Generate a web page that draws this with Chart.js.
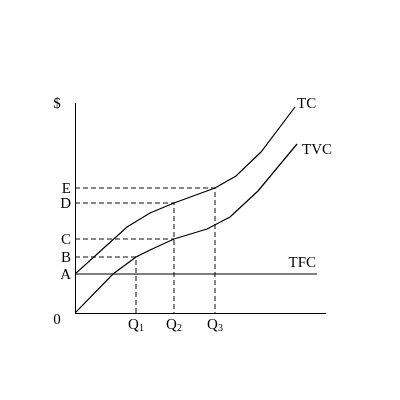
<!DOCTYPE html>
<html><head><meta charset="utf-8">
<script src="https://cdn.jsdelivr.net/npm/chart.js@4"></script>
<style>html,body{margin:0;padding:0;background:#fff}</style>
</head><body>
<canvas id="c" width="400" height="400"></canvas>
<script>
// Data (x = quantity, y = $)
const tvcX = [0, 38, 61, 75, 99, 132, 155, 183, 222];
const tvcY = [0, 39, 56, 63, 74, 84, 96, 122, 169];
const tcX = [0, 52, 75, 99, 140, 161, 186, 220];
const tcY = [39, 86, 100, 110, 125, 137, 161, 206];
const tfcX = [0, 242];
const tfcY = [39, 39];
const qValues = [61, 99, 140];
const qSubs = ['1', '2', '3'];
const costValues = [39, 56, 74, 110, 125];
const costLabels = ['A', 'B', 'C', 'D', 'E'];
const curveLabels = ['TC', 'TVC', 'TFC'];

const pts = (xs, ys) => xs.map((x, i) => ({x, y: ys[i]}));
const [A, B, C, D, E] = costValues;
const [Q1, Q2, Q3] = qValues;

const solid = (data) => ({data, showLine: true, borderColor: '#000', borderWidth: 1.2, pointRadius: 0, tension: 0, fill: false});
const dashed = (data) => ({data, showLine: true, borderColor: '#111', borderWidth: 1, borderDash: [5, 3], pointRadius: 0, tension: 0, fill: false});

const datasets = [
  solid(pts(tcX, tcY)),
  solid(pts(tvcX, tvcY)),
  solid(pts(tfcX, tfcY)),
  dashed([{x: 0, y: E}, {x: Q3, y: E}, {x: Q3, y: 0}]),
  dashed([{x: 0, y: D}, {x: Q2, y: D}, {x: Q2, y: 0}]),
  dashed([{x: 0, y: C}, {x: Q2, y: C}]),
  dashed([{x: 0, y: B}, {x: Q1, y: B}, {x: Q1, y: 0}])
];

const FONT = '"Liberation Serif", "DejaVu Serif", serif';

const labelPlugin = {
  id: 'labels',
  afterDraw(chart) {
    const ctx = chart.ctx, xs = chart.scales.x, ys = chart.scales.y;
    const x0 = xs.getPixelForValue(0), y0 = ys.getPixelForValue(0);
    ctx.save();
    ctx.fillStyle = '#000';
    ctx.font = '15px ' + FONT;
    ctx.textBaseline = 'middle';
    ctx.textAlign = 'right';
    costLabels.forEach((l, i) => {
      ctx.fillText(l, x0 - 4, ys.getPixelForValue(costValues[i]) + 1);
    });
    ctx.textAlign = 'center';
    ctx.fillText('$', x0 - 18, ys.top + 1);
    ctx.fillText('0', x0 - 18, y0 + 7);
    // Q labels with subscripts
    ctx.textBaseline = 'alphabetic';
    qValues.forEach((q, i) => {
      ctx.font = '15px ' + FONT;
      const wQ = ctx.measureText('Q').width;
      ctx.font = '10px ' + FONT;
      const wS = ctx.measureText(qSubs[i]).width;
      const cx = xs.getPixelForValue(q);
      const left = cx - (wQ + wS) / 2;
      ctx.textAlign = 'left';
      ctx.font = '15px ' + FONT;
      ctx.fillText('Q', left, y0 + 16);
      ctx.font = '10px ' + FONT;
      ctx.fillText(qSubs[i], left + wQ, y0 + 18);
    });
    // curve labels
    ctx.font = '15px ' + FONT;
    ctx.textBaseline = 'middle';
    ctx.textAlign = 'left';
    ctx.fillText(curveLabels[0], xs.getPixelForValue(tcX[tcX.length - 1]) + 2, ys.getPixelForValue(tcY[tcY.length - 1]) - 3);
    ctx.fillText(curveLabels[1], xs.getPixelForValue(tvcX[tvcX.length - 1]) + 5, ys.getPixelForValue(tvcY[tvcY.length - 1]) + 6);
    ctx.textAlign = 'right';
    ctx.fillText(curveLabels[2], xs.getPixelForValue(tfcX[1]) - 1, ys.getPixelForValue(tfcY[1]) - 11);
    ctx.restore();
  }
};

new Chart(document.getElementById('c'), {
  type: 'scatter',
  data: {datasets},
  options: {
    responsive: false,
    animation: false,
    devicePixelRatio: 1,
    layout: {padding: {left: 75, top: 103, right: 75, bottom: 87}},
    plugins: {legend: {display: false}, tooltip: {enabled: false}},
    scales: {
      x: {
        type: 'linear', min: 0, max: 250,
        grid: {display: false},
        border: {display: true, color: '#000', width: 1},
        ticks: {display: false},
        afterFit: s => { s.height = 0; }
      },
      y: {
        type: 'linear', min: 0, max: 210,
        grid: {display: false},
        border: {display: true, color: '#000', width: 1},
        ticks: {display: false},
        afterFit: s => { s.width = 0; }
      }
    }
  },
  plugins: [labelPlugin]
});
</script>
</body></html>
